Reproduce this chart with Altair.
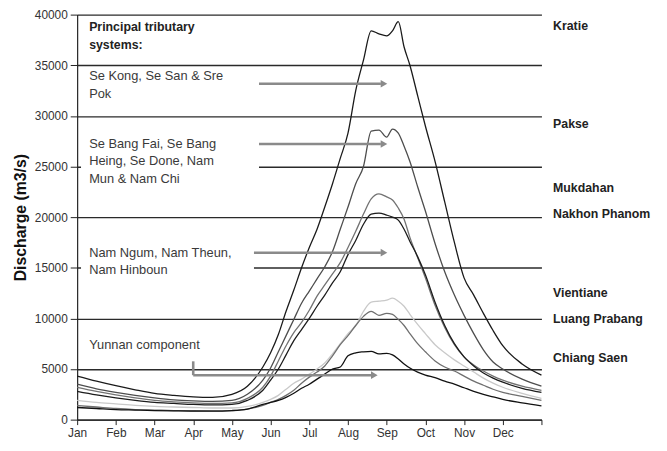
import altair as alt
import pandas as pd

# ---------------- data ----------------
MONTH_NAMES = ["Jan", "Feb", "Mar", "Apr", "May", "Jun", "Jul", "Aug", "Sep", "Oct", "Nov", "Dec"]

MONTHS = [0, 0.5, 1, 1.5, 2, 2.5, 3, 3.5, 4, 4.4, 4.8,
          5.0, 5.2, 5.4, 5.6, 5.8, 6.0, 6.2, 6.4, 6.6, 6.8, 7.0, 7.2, 7.4, 7.6, 7.8,
          8.0, 8.15, 8.3, 8.45, 8.6, 8.8,
          9.0, 9.25, 9.5, 9.75, 10.0, 10.25, 10.5, 10.75, 11.0, 11.5, 12.0]

KRATIE = [4300, 3800, 3350, 2950, 2600, 2400, 2250, 2200, 2500, 3300, 5200,
          6600, 8400, 10700, 12800, 15000, 17000, 18800, 21000, 23300, 25800, 28300, 32500, 35500, 38400, 38100,
          37900, 38400, 39300, 36800, 35000, 32000,
          29000, 25500, 21500, 17500, 14000, 12300, 10500, 8800, 7300, 5500, 4400]
PAKSE = [3500, 3050, 2700, 2400, 2150, 1950, 1850, 1800, 1900, 2500, 3900,
         5100, 6700, 8300, 9900, 11500, 12700, 13900, 15100, 16600, 18800, 21000, 23300, 25000, 28500, 28600,
         27900, 28700, 28300, 27000, 25500, 23000,
         20600, 17400, 14600, 12300, 10300, 8500, 6900, 5700, 5000, 4000, 3300]
MUKDAHAN = [3200, 2800, 2450, 2150, 1900, 1750, 1650, 1600, 1650, 2100, 3200,
            4300, 5800, 7300, 8600, 9600, 10800, 12200, 13300, 14400, 15500, 17000, 18600, 20300, 21800, 22300,
            22000, 21700, 20900, 19800, 18000, 16000,
            14000, 11300, 9100, 7400, 6200, 5400, 4800, 4300, 3900, 3300, 2900]
NAKHON = [2800, 2450, 2150, 1900, 1700, 1600, 1500, 1450, 1500, 1900, 2900,
          3900, 5000, 6400, 7800, 8900, 10000, 11200, 12300, 13500, 14600, 16300, 17700, 19300, 20300, 20400,
          20200, 20000, 19700, 18800, 17600, 16100,
          14300, 11600, 9300, 7500, 6200, 5300, 4600, 4100, 3700, 3100, 2700]
VIENTIANE = [1900, 1700, 1550, 1400, 1300, 1250, 1200, 1150, 1150, 1300, 1700,
             2000, 2400, 3000, 3600, 4000, 4500, 5000, 5600, 6500, 7500, 8500, 9300, 10700, 11600, 11700,
             11800, 12000, 11700, 11200, 10400, 9400,
             8500, 7400, 6600, 5900, 5300, 4700, 4100, 3600, 3200, 2600, 2100]
LUANG_PRABANG = [1400, 1250, 1100, 1000, 950, 900, 880, 870, 900, 1050, 1400,
                 1700, 2000, 2400, 2900, 3600, 4200, 4700, 5300, 6300, 7400, 8300, 9300, 10200, 10700, 10300,
                 10500, 10400, 9900, 9300, 8500, 7500,
                 6700, 5800, 5200, 4800, 4300, 3800, 3400, 3000, 2700, 2300, 1900]
CHIANG_SAEN = [1200, 1100, 1000, 950, 900, 870, 850, 850, 900, 1050, 1500,
               1700, 1900, 2200, 2600, 3100, 3500, 4000, 4500, 5000, 5200, 6300, 6600, 6700, 6750, 6500,
               6550, 6400, 6000, 5500, 5100, 4700,
               4400, 4150, 3800, 3500, 3150, 2800, 2500, 2250, 2000, 1650, 1350]

STATIONS = ["Vientiane", "Luang Prabang", "Mukdahan", "Pakse", "Nakhon Phanom", "Kratie", "Chiang Saen"]
SERIES = [VIENTIANE, LUANG_PRABANG, MUKDAHAN, PAKSE, NAKHON, KRATIE, CHIANG_SAEN]
COLORS = ["#c9c9c9", "#6f6f6f", "#727272", "#4d4d4d", "#1c1c1c", "#1a1a1a", "#111111"]
WIDTHS = [1.3, 1.3, 1.3, 1.3, 1.5, 1.5, 2.0]

# right-hand station labels
LABEL_NAMES = ["Kratie", "Pakse", "Mukdahan", "Nakhon Phanom", "Vientiane", "Luang Prabang", "Chiang Saen"]
LABEL_Q = [38830, 29170, 22830, 20290, 12490, 9950, 6050]

# annotation texts
ANNOT_TEXT = ["Principal tributary", "systems:", "Se Kong, Se San & Sre", "Pok",
              "Se Bang Fai, Se Bang", "Heing, Se Done, Nam", "Mun & Nam Chi",
              "Nam Ngum, Nam Theun,", "Nam Hinboun", "Yunnan component"]
ANNOT_Q = [38730, 36980, 33950, 32200, 27220, 25560, 23800, 16490, 14730, 7410]
ANNOT_BOLD = [True, True, False, False, False, False, False, False, False, False]

# arrows (segments) and arrow heads
SEG_X0 = [4.70, 4.70, 4.57, 3.0, 3.0]
SEG_X1 = [7.85, 7.85, 7.85, 3.0, 7.60]
SEG_Q0 = [33170, 27220, 16490, 5760, 4390]
SEG_Q1 = [33170, 27220, 16490, 4390, 4390]
HEAD_X = [7.93, 7.93, 7.93, 7.68]
HEAD_Q = [33170, 27220, 16490, 4390]

# white boxes behind text blocks
BOX_X0 = [0.1, 0.1]
BOX_X1 = [4.70, 4.57]
BOX_Q0 = [24000, 14000]
BOX_Q1 = [26200, 15800]

# ---------------- tables ----------------
rows = []
for name, vals in zip(STATIONS, SERIES):
    for m, v in zip(MONTHS, vals):
        rows.append({"station": name, "month": m, "q": v})
df = pd.DataFrame(rows)

labels_df = pd.DataFrame({"name": LABEL_NAMES, "q": LABEL_Q, "month": [12.3] * len(LABEL_NAMES)})
annot_df = pd.DataFrame({"text": ANNOT_TEXT, "q": ANNOT_Q, "bold": ANNOT_BOLD,
                         "month": [0.31] * len(ANNOT_TEXT)})
seg_df = pd.DataFrame({"month": SEG_X0, "x1": SEG_X1, "q": SEG_Q0, "q1": SEG_Q1})
head_df = pd.DataFrame({"month": HEAD_X, "q": HEAD_Q})
box_df = pd.DataFrame({"month": BOX_X0, "x1": BOX_X1, "q": BOX_Q0, "q1": BOX_Q1})

FONT = "Liberation Sans"
xscale = alt.Scale(domain=[0, 12], nice=False, zero=False)
yscale = alt.Scale(domain=[0, 40000], nice=False)

label_expr = "[" + ",".join("'%s'" % m for m in MONTH_NAMES) + ",''][datum.value]"

X_AXIS = alt.Axis(values=list(range(13)), labelExpr=label_expr, grid=False,
                  domainColor="#222", domainWidth=1.2, tickColor="#222", tickSize=5,
                  labelFontSize=12, labelColor="#333", labelPadding=3,
                  labelFlush=False, labelOverlap=False, title=None)
Y_AXIS = alt.Axis(values=list(range(0, 40001, 5000)), format="d", grid=True,
                  gridColor="#2a2a2a", gridWidth=1.4,
                  domainColor="#222", domainWidth=1.2, tickColor="#222", tickSize=7,
                  labelFontSize=12, labelColor="#333", labelPadding=3,
                  title="Discharge (m3/s)", titleFontSize=16, titleFontWeight="bold",
                  titleColor="#111", titlePadding=6)

def X():
    return alt.X("month:Q", scale=xscale, axis=X_AXIS)

def Y():
    return alt.Y("q:Q", scale=yscale, axis=Y_AXIS)

lines = alt.Chart(df).mark_line(interpolate="monotone").encode(
    x=X(), y=Y(),
    color=alt.Color("station:N", scale=alt.Scale(domain=STATIONS, range=COLORS), legend=None),
    strokeWidth=alt.StrokeWidth("station:N", scale=alt.Scale(domain=STATIONS, range=WIDTHS), legend=None),
    detail="station:N",
)

boxes = alt.Chart(box_df).mark_rect(color="white").encode(
    x=X(), x2="x1:Q", y=Y(), y2="q1:Q",
)

annot_norm = alt.Chart(annot_df).transform_filter("!datum.bold").mark_text(
    align="left", baseline="middle", font=FONT, fontSize=13, color="#3a3a3a"
).encode(x=X(), y=Y(), text="text:N")

annot_bold = alt.Chart(annot_df).transform_filter("datum.bold").mark_text(
    align="left", baseline="middle", font=FONT, fontSize=12.5, fontWeight="bold", color="#222"
).encode(x=X(), y=Y(), text="text:N")

segs = alt.Chart(seg_df).mark_rule(color="#8a8a8a", strokeWidth=2.6).encode(
    x=X(), x2="x1:Q", y=Y(), y2="q1:Q",
)

heads = alt.Chart(head_df).mark_point(shape="triangle-right", filled=True, size=60,
                                      color="#8a8a8a", opacity=1).encode(x=X(), y=Y())

right_labels = alt.Chart(labels_df).mark_text(
    align="left", baseline="middle", font=FONT, fontSize=12.5, fontWeight="bold", color="#222"
).encode(x=X(), y=Y(), text="name:N")

chart = alt.layer(lines, boxes, segs, heads, annot_norm, annot_bold, right_labels).properties(
    width=470, height=410,
    autosize=alt.AutoSizeParams(type="none"),
    padding={"left": 70, "top": 4, "right": 119, "bottom": 26},
).configure(font=FONT).configure_view(stroke=None)

chart.save("out.html", embed_options={"renderer": "svg", "actions": False})
